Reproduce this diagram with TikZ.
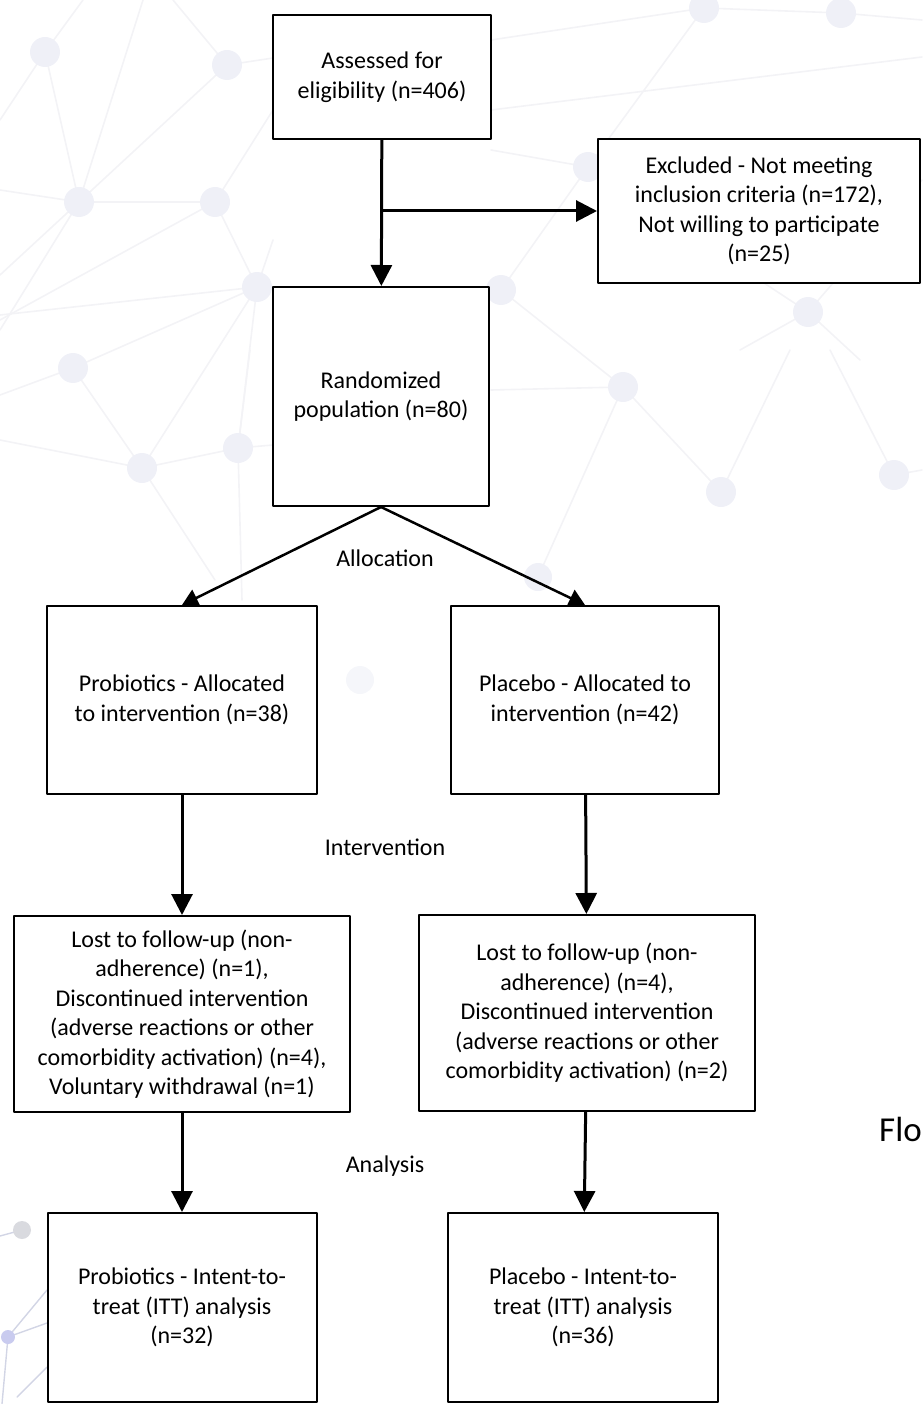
\documentclass[tikz,border=0pt]{standalone}
\usepackage{fontspec}
\setmainfont{Carlito}
\usetikzlibrary{arrows.meta}

\definecolor{bgdot}{RGB}{239,240,247}
\definecolor{bgline}{RGB}{243,243,246}
\definecolor{bgedge}{RGB}{210,213,229}

\tikzset{
  flowbox/.style={draw, line width=2pt, align=center, inner sep=0pt,
    font=\fontsize{24}{29.5}\selectfont},
  phase/.style={font=\fontsize{24}{29.5}\selectfont},
  flowarrow/.style={line width=3pt, -{Triangle[length=21pt,width=21pt]}},
  diagarrow/.style={line width=2.5pt, -{Triangle[length=16pt,width=18pt]}},
}

\begin{document}
\begin{tikzpicture}[x=1pt, y=-1pt, line cap=round, line join=round]

  %% ==== background network (faint) ====
  \begin{scope}[line width=1.6pt, bgline]
    \draw (45,52) -- (83,0);   \draw (45,52) -- (79,202);  \draw (45,52) -- (0,120);
    \draw (227,65) -- (173,0); \draw (227,65) -- (79,202); \draw (227,65) -- (273,58);
    \draw (79,202) -- (215,202); \draw (79,202) -- (143,0);
    \draw (79,202) -- (0,190);   \draw (79,202) -- (0,275);  \draw (79,202) -- (0,330);
    \draw (215,202) -- (257,287); \draw (215,202) -- (273,110); \draw (215,202) -- (0,320);
    \draw (257,287) -- (0,315);  \draw (257,287) -- (273,240);
    \draw (257,287) -- (142,468); \draw (257,287) -- (238,448);
    \draw (73,368) -- (0,395);   \draw (73,368) -- (142,468); \draw (73,368) -- (257,287);
    \draw (142,468) -- (238,448); \draw (142,468) -- (0,440);  \draw (142,468) -- (215,580);
    \draw (238,448) -- (250,350); \draw (238,448) -- (242,600); \draw (238,448) -- (273,445);
    \draw (704,8) -- (841,13);   \draw (704,8) -- (491,40);   \draw (704,8) -- (588,167);
    \draw (841,13) -- (922,20);  \draw (491,110) -- (922,57);
    \draw (588,167) -- (491,150); \draw (588,167) -- (808,312); \draw (588,167) -- (501,290);
    \draw (501,290) -- (623,387); \draw (808,312) -- (922,180);
    \draw (808,312) -- (740,350); \draw (808,312) -- (860,360);
    \draw (623,387) -- (721,492); \draw (623,387) -- (538,577); \draw (623,387) -- (491,390);
    \draw (721,492) -- (790,350); \draw (894,475) -- (830,350); \draw (894,475) -- (922,470);
  \end{scope}
  \fill[bgdot] (45,52) circle (15);  \fill[bgdot] (227,65) circle (15);
  \fill[bgdot] (79,202) circle (15); \fill[bgdot] (215,202) circle (15);
  \fill[bgdot] (257,287) circle (15); \fill[bgdot] (704,8) circle (15);
  \fill[bgdot] (841,13) circle (15); \fill[bgdot] (588,167) circle (15);
  \fill[bgdot] (501,290) circle (15); \fill[bgdot] (808,312) circle (15);
  \fill[bgdot] (73,368) circle (15); \fill[bgdot] (142,468) circle (15);
  \fill[bgdot] (238,448) circle (15); \fill[bgdot] (623,387) circle (15);
  \fill[bgdot] (721,492) circle (15); \fill[bgdot] (894,475) circle (15);
  \fill[bgdot] (538,577) circle (14); \fill[bgdot!60] (360,680) circle (14);
  %% lower left corner, a bit darker
  \begin{scope}[line width=1.4pt, bgedge]
    \draw (8,1337) -- (47,1323); \draw (8,1337) -- (47,1290);
    \draw (8,1337) -- (2,1404);  \draw (17,1397) -- (47,1367);
    \draw (22,1230) -- (0,1236);
  \end{scope}
  \fill[bgdot!80!gray] (22,1230) circle (9);
  \fill[bgedge!85!blue!70] (8,1337) circle (7);

  %% ==== boxes ====
  \node[flowbox, fill=white, minimum width=218, minimum height=124] (assessed) at (382,77)
    {Assessed for\\eligibility (n=406)};
  \node[flowbox, fill=white, minimum width=322, minimum height=144] (excluded) at (759,211)
    {Excluded - Not meeting\\inclusion criteria (n=172),\\Not willing to participate\\(n=25)};
  \node[flowbox, fill=white, minimum width=216, minimum height=219] (random) at (381,396.5)
    {Randomized\\population (n=80)};
  \node[flowbox, fill=white, minimum width=270, minimum height=188] (probAlloc) at (182,700)
    {Probiotics - Allocated\\to intervention (n=38)};
  \node[flowbox, fill=white, minimum width=268, minimum height=188] (placAlloc) at (585,700)
    {Placebo - Allocated to\\intervention (n=42)};
  \node[flowbox, fill=white, minimum width=336, minimum height=196] (probLost) at (182,1014)
    {Lost to follow-up (non-\\adherence) (n=1),\\Discontinued intervention\\(adverse reactions or other\\comorbidity activation) (n=4),\\Voluntary withdrawal (n=1)};
  \node[flowbox, fill=white, minimum width=336, minimum height=196] (placLost) at (587,1013)
    {Lost to follow-up (non-\\adherence) (n=4),\\Discontinued intervention\\(adverse reactions or other\\comorbidity activation) (n=2)};
  \node[flowbox, fill=white, minimum width=269, minimum height=189] (probITT) at (182,1307.5)
    {Probiotics - Intent-to-\\treat (ITT) analysis\\(n=32)};
  \node[flowbox, fill=white, minimum width=270, minimum height=189] (placITT) at (583,1307.5)
    {Placebo - Intent-to-\\treat (ITT) analysis\\(n=36)};

  %% ==== phase labels ====
  \node[phase] (allocLbl) at (385,558) {Allocation};
  \node[phase] (intervLbl) at (385,847) {Intervention};
  \node[phase] (analysLbl) at (385,1166) {Analysis};
  \node[anchor=base west, inner sep=0pt, font=\fontsize{35}{42}\selectfont] (flo) at (879,1141) {Flo};

  %% ==== connectors ====
  \coordinate (branch) at (assessed.south |- excluded.west);
  \draw[flowarrow] (assessed) -- (random);
  \draw[flowarrow] (branch) -- (excluded);
  \draw[diagarrow] (random.south) -- (probAlloc.north);
  \draw[diagarrow] (random.south) -- (placAlloc.north);
  \draw[flowarrow] (probAlloc) -- (probLost);
  \draw[flowarrow] (placAlloc) -- (placLost);
  \draw[flowarrow] (probLost) -- (probITT);
  \draw[flowarrow] (placLost) -- (placITT);

  % fix the canvas to the reference size
  \pgfresetboundingbox
  \path[use as bounding box] (0,0) rectangle (922,1404);
\end{tikzpicture}
\end{document}
